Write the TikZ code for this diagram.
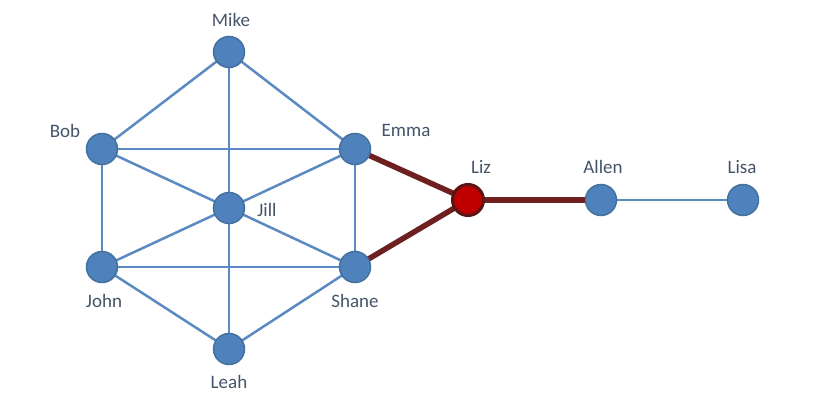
\documentclass[tikz,border=0pt]{standalone}
\usepackage{fontspec}
\setmainfont{Carlito}
\usetikzlibrary{backgrounds}
\definecolor{nodeblue}{HTML}{4F81BD}
\definecolor{nodeborder}{HTML}{41719C}
\definecolor{edgeblue}{HTML}{5B8AC2}
\definecolor{edgered}{HTML}{6E2020}
\definecolor{lizred}{HTML}{C00000}
\definecolor{lizborder}{HTML}{5A1414}
\definecolor{labelcol}{HTML}{44546A}
\begin{document}
\begin{tikzpicture}[x=1pt,y=-1pt,
  person/.style={circle,fill=nodeblue,draw=nodeborder,line width=1.5pt,minimum size=31pt,inner sep=0pt},
  hub/.style={circle,fill=lizred,draw=lizborder,line width=3pt,minimum size=31pt,inner sep=0pt},
  lbl/.style={text=labelcol,font=\fontsize{19}{21}\selectfont,inner sep=0pt},
  link/.style={draw=edgeblue,line width=2.5pt},
  redlink/.style={draw=edgered,line width=5.5pt}]
\useasboundingbox (0,0) rectangle (822,420);
% nodes
\node[person] (mike) at (229,52) {};
\node[person] (bob) at (102,149) {};
\node[person] (emma) at (355,149) {};
\node[person] (jill) at (229,208) {};
\node[person] (john) at (102,267) {};
\node[person] (shane) at (355,267) {};
\node[person] (leah) at (229,349) {};
\node[hub] (liz) at (468,200) {};
\node[person] (allen) at (601,200) {};
\node[person] (lisa) at (743,200) {};
% labels
\node[lbl] (lmike) at (231,20) {Mike};
\node[lbl] (lbob) at (65,131) {Bob};
\node[lbl] (lemma) at (406,130) {Emma};
\node[lbl] (ljill) at (267,210) {Jill};
\node[lbl] (ljohn) at (104,301) {John};
\node[lbl] (lshane) at (355,301) {Shane};
\node[lbl] (lleah) at (229,382) {Leah};
\node[lbl] (lliz) at (481,167) {Liz};
\node[lbl] (lallen) at (603,167) {Allen};
\node[lbl] (llisa) at (742,167) {Lisa};
% edges
\begin{scope}[on background layer]
\fill[white] (0,0) rectangle (822,420);
\draw[link] (mike.center) -- (bob.center);
\draw[link] (mike.center) -- (emma.center);
\draw[link] (mike.center) -- (jill.center);
\draw[link] (bob.center) -- (emma.center);
\draw[link] (bob.center) -- (jill.center);
\draw[link] (bob.center) -- (john.center);
\draw[link] (emma.center) -- (jill.center);
\draw[link] (emma.center) -- (shane.center);
\draw[link] (jill.center) -- (john.center);
\draw[link] (jill.center) -- (shane.center);
\draw[link] (jill.center) -- (leah.center);
\draw[link] (john.center) -- (shane.center);
\draw[link] (john.center) -- (leah.center);
\draw[link] (shane.center) -- (leah.center);
\draw[link] (allen.center) -- (lisa.center);
\draw[redlink] (emma.center) -- (liz.center);
\draw[redlink] (shane.center) -- (liz.center);
\draw[redlink] (liz.center) -- (allen.center);
\end{scope}
\end{tikzpicture}
\end{document}
